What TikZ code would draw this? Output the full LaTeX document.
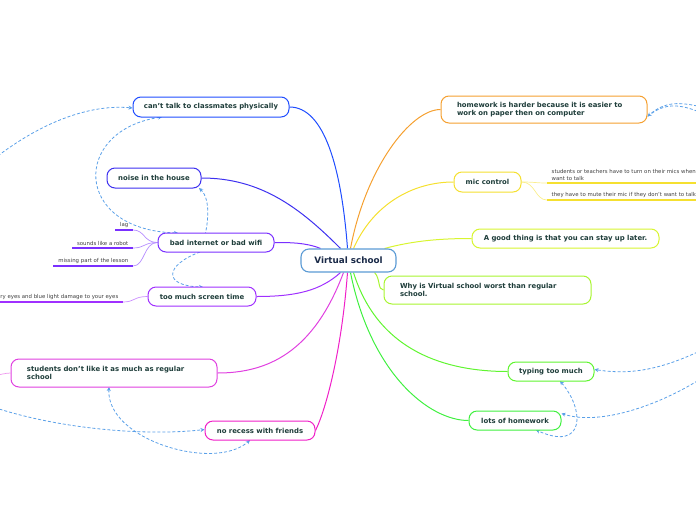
\documentclass[tikz,border=0pt]{standalone}
\usepackage{fontspec}
\setmainfont{DejaVu Sans}
\usetikzlibrary{arrows.meta}
\pgfdeclarelayer{bg}
\pgfsetlayers{bg,main}
\newcommand\apos{\char"27\relax}
\definecolor{txt}{HTML}{1E3D3A}
\definecolor{ctxt}{HTML}{1A2A48}
\definecolor{rel}{HTML}{5AA0E8}
\definecolor{cVS}{HTML}{5B9BD5}
\definecolor{cCT}{HTML}{1F4DFF}
\definecolor{cNH}{HTML}{3D30F0}
\definecolor{cBI}{HTML}{7A30FF}
\definecolor{cST}{HTML}{A030FF}
\definecolor{cSD}{HTML}{E040E0}
\definecolor{cNR}{HTML}{F020C8}
\definecolor{cHW}{HTML}{F5A030}
\definecolor{cMC}{HTML}{F5E030}
\definecolor{cGT}{HTML}{D8F530}
\definecolor{cWY}{HTML}{A8F530}
\definecolor{cTT}{HTML}{60F530}
\definecolor{cLH}{HTML}{40F040}
\tikzset{
  topic/.style={draw=#1, line width=1pt, fill=white, rounded corners=8pt, inner sep=0pt,
    font=\fontsize{6.9}{8.2}\selectfont\bfseries, text=txt},
  wide/.style={draw=#1, line width=1pt, fill=white, rounded corners=8pt, inner xsep=16pt, inner ysep=0pt,
    font=\fontsize{6.9}{8.2}\selectfont\bfseries, text=txt, align=left},
  branch/.style={draw=#1, line width=1pt},
  sub/.style={font=\fontsize{5.4}{6.4}\selectfont, text=black!75, inner sep=0.5pt},
  subline/.style={draw=#1, line width=1.4pt},
  subcurve/.style={draw=#1!55, line width=0.7pt},
  relation/.style={draw=rel, dash pattern=on 3pt off 2pt, line width=0.8pt},
  tip/.style={-{Stealth[length=4pt,width=4pt]}},
  tips/.style={{Stealth[length=4pt,width=4pt]}-{Stealth[length=4pt,width=4pt]}}
}
\begin{document}
\begin{tikzpicture}[x=1pt,y=-1pt]
\useasboundingbox (0,0) rectangle (696,520);
\clip (0,0) rectangle (696,520);

% ---------- nodes ----------
\node[topic=cVS, line width=1.1pt, minimum width=95pt, minimum height=23pt, text=ctxt,
  font=\fontsize{8.8}{10}\selectfont\bfseries] (vs) at (348.5,260.5) {Virtual school};

\node[topic=cCT, minimum width=156pt, minimum height=20pt] (ct) at (211,107) {can\apos t talk to classmates physically};
\node[topic=cNH, minimum width=94pt, minimum height=20pt] (nh) at (154,178) {noise in the house};
\node[topic=cBI, minimum width=116pt, minimum height=19pt] (bi) at (216,242.5) {bad internet or bad wifi};
\node[topic=cST, minimum width=108pt, minimum height=19pt] (st) at (202,296.5) {too much screen time};
\node[wide=cSD, text width=174pt, minimum height=28pt] (sd) at (114,373) {students don\apos t like it as much as regular\\school};
\node[topic=cNR, minimum width=110pt, minimum height=19pt] (nr) at (260,430.5) {no recess with friends};
\node[wide=cHW, text width=174pt, minimum height=27pt] (hw) at (544,109.5) {homework is harder because it is easier to\\work on paper then on computer};
\node[topic=cMC, minimum width=67pt, minimum height=20pt] (mc) at (487.5,182) {mic control};
\node[topic=cGT, minimum width=187pt, minimum height=19pt] (gt) at (565.5,238.5) {A good thing is that you can stay up later.};
\node[wide=cWY, text width=175pt, minimum height=28pt] (wy) at (487.5,290) {Why is Virtual school worst than regular\\school.};
\node[topic=cTT, minimum width=86pt, minimum height=19pt] (tt) at (551,371.5) {typing too much};
\node[topic=cLH, minimum width=92pt, minimum height=19pt] (lh) at (515,420.5) {lots of homework};

% ---------- sub-topic labels ----------
\coordinate (lagL) at (115,230);   \coordinate (lagR) at (133,230);
\coordinate (robL) at (72,248);    \coordinate (robR) at (133,248);
\coordinate (misL) at (53,266);    \coordinate (misR) at (133,266);
\coordinate (eyeL) at (-5,302);    \coordinate (eyeR) at (123,302);
\coordinate (micL) at (547,183);   \coordinate (micR) at (702,183);
\coordinate (mutL) at (547,200);   \coordinate (mutR) at (702,200);
\coordinate (sdL) at (-5,375);

\node[sub, anchor=south east] (lag) at (129,228) {lag};
\node[sub, anchor=south east] (rob) at (129,246) {sounds like a robot};
\node[sub, anchor=south east] (mis) at (129,264) {missing part of the lesson};
\node[sub, anchor=south east] (eye) at (119,300) {dry eyes and blue light damage to your eyes};
\node[sub, anchor=south west, align=left, font=\fontsize{5.4}{7}\selectfont] (mic1) at (551,181) {students or teachers have to turn on their mics when they\\want to talk};
\node[sub, anchor=south west] (mic2) at (551,198) {they have to mute their mic if they don\apos t want to talk};

\begin{pgfonlayer}{bg}
% ---------- branches ----------
\draw[branch=cCT] ([xshift=-1pt]vs.north) .. controls +(-6,-80) and +(35,0) .. (ct.east);
\draw[branch=cNH] ([xshift=-8pt]vs.north) .. controls +(-40,-40) and +(60,0) .. (nh.east);
\draw[branch=cBI] ([xshift=-28pt]vs.north) .. controls +(-15,-6) and +(15,0) .. (bi.east);
\draw[branch=cST] ([xshift=-8pt]vs.south) .. controls +(-20,18) and +(40,0) .. (st.east);
\draw[branch=cSD] ([xshift=-5pt]vs.south) .. controls +(-30,80) and +(50,0) .. (sd.east);
\draw[branch=cNR] ([xshift=-1pt]vs.south) .. controls +(-6,80) and +(10,-20) .. (nr.east);
\draw[branch=cHW] ([xshift=2pt]vs.north) .. controls +(15,-80) and +(-30,0) .. (hw.west);
\draw[branch=cMC] ([xshift=5pt]vs.north) .. controls +(20,-45) and +(-40,0) .. (mc.west);
\draw[branch=cGT] ([xshift=-12pt]vs.north east) .. controls +(30,-8) and +(-30,0) .. (gt.west);
\draw[branch=cWY] ([xshift=-22pt]vs.south east) .. controls +(6,6) and +(-6,0) .. (wy.west);
\draw[branch=cTT] ([xshift=5pt]vs.south) .. controls +(25,80) and +(-60,0) .. (tt.west);
\draw[branch=cLH] ([xshift=2pt]vs.south) .. controls +(20,100) and +(-40,0) .. (lh.west);

% ---------- sub-topic connectors ----------
\draw[subcurve=cBI] (bi.west) .. controls +(-14,0) and +(12,0) .. (lagR);
\draw[subcurve=cBI] (bi.west) .. controls +(-14,0) and +(12,0) .. (robR);
\draw[subcurve=cBI] (bi.west) .. controls +(-14,0) and +(12,0) .. (misR);
\draw[subline=cBI] (lagL) -- (lagR);
\draw[subline=cBI] (robL) -- (robR);
\draw[subline=cBI] (misL) -- (misR);
\draw[subcurve=cST] (st.west) .. controls +(-14,0) and +(12,0) .. (eyeR);
\draw[subline=cST] (eyeL) -- (eyeR);
\draw[subcurve=cMC] (mc.east) .. controls +(14,0) and +(-12,0) .. (micL);
\draw[subcurve=cMC] (mc.east) .. controls +(14,0) and +(-12,0) .. (mutL);
\draw[subline=cMC] (micL) -- (micR);
\draw[subline=cMC] (mutL) -- (mutR);
\draw[subcurve=cSD] (sd.west) .. controls +(-5,0) and +(5,0) .. (sdL);

% ---------- relations ----------
\coordinate (rA) at (-10,162);
\coordinate (rB) at (702,107);
\coordinate (rB2) at (702,113);
\coordinate (rC) at (702,350);
\coordinate (rD) at (702,378);
\coordinate (rE) at (-10,406);
\coordinate (ctb) at (162,117);
\coordinate (bit) at (178,233);
\coordinate (nhb) at (199,188);
\coordinate (bib) at (200,252);
\coordinate (stt) at (203,287);
\coordinate (ttb) at (560,381);
\coordinate (lhb) at (536,430);
\coordinate (sdb) at (109,387);
\coordinate (nrb) at (250,440);

\draw[relation, tip] (rA) .. controls (40,122) and (90,104) .. ([yshift=-1pt]ct.west);
\draw[relation, tips] (ctb) .. controls (72,130) and (72,230) .. (bit);
\draw[relation, tips] (bib) .. controls (208,230) and (212,200) .. (nhb);
\draw[relation, tip] (bib) .. controls (165,265) and (162,286) .. (stt);
\draw[relation, tip] (rB) .. controls (680,102) and (665,101) .. ([yshift=-7pt]hw.east);
\draw[relation] (rB2) .. controls (680,104) and (665,102) .. ([yshift=-7pt]hw.east);
\draw[relation, tip] (rC) .. controls (660,370) and (630,375) .. ([yshift=2pt]tt.east);
\draw[relation, tip] (rD) .. controls (660,405) and (600,426) .. ([yshift=7pt]lh.east);
\draw[relation, tips] (ttb) .. controls (585,410) and (585,452) .. (lhb);
\draw[relation, tip] (rE) .. controls (60,430) and (150,436) .. ([yshift=1pt]nr.west);
\draw[relation, tips] (sdb) .. controls (106,440) and (215,472) .. (nrb);
\end{pgfonlayer}
\end{tikzpicture}
\end{document}
